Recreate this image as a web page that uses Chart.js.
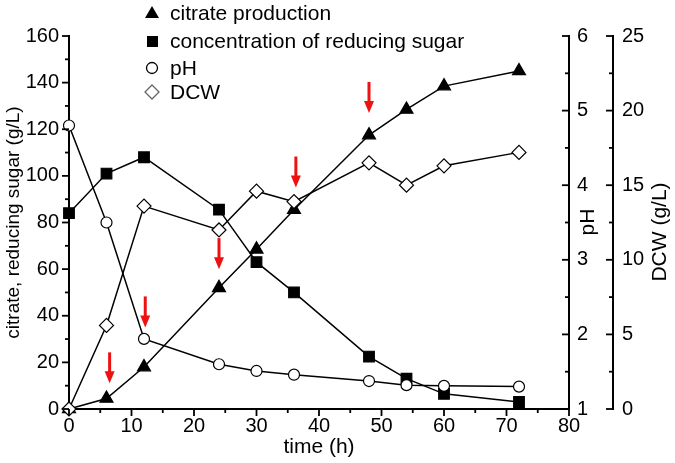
<!DOCTYPE html>
<html lang="en">
<head>
<meta charset="UTF-8">
<title>Citrate fermentation time course</title>
<script src="https://cdn.jsdelivr.net/npm/chart.js@4.4.0/dist/chart.umd.min.js"></script>
<style>
  body { margin: 0; background: #fff; }
</style>
</head>
<body>
<canvas id="myChart" width="675" height="463"></canvas>
<script>
// sampling times (h)
const times = [0, 6, 12, 24, 30, 36, 48, 54, 60, 72];
// left axis, g/L
const citrate = [0, 4.5, 18, 52, 68.5, 85.5, 117.5, 128.5, 138.5, 145];
const sugar = [84, 101, 108, 85.5, 63, 50, 22.5, 13, 6.5, 3];
// right axes
const pH = [4.80, 3.50, 1.94, 1.60, 1.51, 1.46, 1.375, 1.32, 1.31, 1.30];
const dcw = [0, 5.6, 13.6, 12.0, 14.6, 13.9, 16.5, 15.0, 16.3, 17.2];

// tick labels
const xTicks = [0, 10, 20, 30, 40, 50, 60, 70, 80];
const yTicks = [0, 20, 40, 60, 80, 100, 120, 140, 160];
const phTicks = [1, 2, 3, 4, 5, 6];
const dcwTicks = [0, 5, 10, 15, 20, 25];

// red arrows (time, value on left axis at the tip)
const arrowTimes = [6.5, 12.2, 24, 36.3, 48];
const arrowTips = [11, 35, 60, 95, 127];

const legendLabels = ['citrate production', 'concentration of reducing sugar', 'pH', 'DCW'];

const FONT = '"Liberation Sans", Arial, sans-serif';

function pts(ys) {
    return times.map((t, i) => ({x: t, y: ys[i]}));
}

function tickList(arr) {
    return s => { s.ticks = arr.map(v => ({value: v})); };
}

function axisOpts(extra) {
    return Object.assign({
        type: 'linear',
        grid: {display: false, drawTicks: false},
        border: {display: true, color: '#000', width: 2},
        ticks: {font: {size: 20, family: FONT}, color: '#000'}
    }, extra);
}

// ticks, titles, legend and arrows drawn on top
const decorations = {
    id: 'decorations',
    afterDatasetsDraw(chart) {
        const ctx = chart.ctx;
        const {x, y} = chart.scales;
        ctx.save();
        ctx.fillStyle = '#ee1111';
        ctx.strokeStyle = '#ee1111';
        ctx.lineWidth = 3;
        arrowTimes.forEach((t, i) => {
            const ax = x.getPixelForValue(t);
            const ay = y.getPixelForValue(arrowTips[i]);
            ctx.beginPath();
            ctx.moveTo(ax, ay - 31);
            ctx.lineTo(ax, ay - 9);
            ctx.stroke();
            ctx.beginPath();
            ctx.moveTo(ax - 5, ay - 12);
            ctx.lineTo(ax + 5, ay - 12);
            ctx.lineTo(ax, ay);
            ctx.closePath();
            ctx.fill();
        });
        ctx.restore();
    },
    afterDraw(chart) {
        const ctx = chart.ctx;
        const {x, y, yPH, yDCW} = chart.scales;
        ctx.save();
        ctx.strokeStyle = '#000';
        ctx.lineWidth = 1.8;

        // vertical axis ticks
        function vTicks(scale, px, step, dir) {
            for (let v = scale.min, k = 0; v <= scale.max + 1e-9; v += step / 2, k++) {
                const py = scale.getPixelForValue(v);
                const len = k % 2 === 0 ? 7 : 4;
                ctx.beginPath();
                ctx.moveTo(px, py);
                ctx.lineTo(px + dir * len, py);
                ctx.stroke();
            }
        }
        vTicks(y, y.right, 20, -1);
        vTicks(yPH, yPH.left, 1, -1);
        vTicks(yDCW, yDCW.left, 5, -1);
        for (let v = x.min, k = 0; v <= x.max + 1e-9; v += 5, k++) {
            const px = x.getPixelForValue(v);
            const len = k % 2 === 0 ? 7 : 4;
            ctx.beginPath();
            ctx.moveTo(px, x.top);
            ctx.lineTo(px, x.top + len);
            ctx.stroke();
        }

        // axis titles
        ctx.fillStyle = '#000';
        ctx.font = '21px ' + FONT;
        ctx.textAlign = 'center';
        ctx.textBaseline = 'middle';
        ctx.fillText('time (h)', (x.left + x.right) / 2, 447);
        function vTitle(text, cx, cy) {
            ctx.save();
            ctx.translate(cx, cy);
            ctx.rotate(-Math.PI / 2);
            ctx.fillText(text, 0, 0);
            ctx.restore();
        }
        vTitle('pH', 588, 222);
        vTitle('DCW (g/L)', 660, 232);
        ctx.font = '19px ' + FONT;
        vTitle('citrate, reducing sugar (g/L)', 14, (y.top + y.bottom) / 2);

        // legend
        const rows = [13, 41, 68, 92];
        const mx = 152;
        ctx.textAlign = 'left';
        ctx.font = '21px ' + FONT;
        legendLabels.forEach((lab, i) => {
            ctx.fillStyle = '#000';
            ctx.fillText(lab, 170, rows[i] + 1);
        });
        ctx.lineWidth = 1.3;
        // triangle
        ctx.beginPath();
        ctx.moveTo(mx, rows[0] - 7);
        ctx.lineTo(mx + 7, rows[0] + 5);
        ctx.lineTo(mx - 7, rows[0] + 5);
        ctx.closePath();
        ctx.fill();
        // square
        ctx.fillRect(mx - 5, rows[1] - 5, 11, 11);
        // circle
        ctx.beginPath();
        ctx.arc(mx, rows[2], 5.5, 0, Math.PI * 2);
        ctx.stroke();
        // diamond
        ctx.strokeStyle = '#666';
        ctx.beginPath();
        ctx.moveTo(mx, rows[3] - 7);
        ctx.lineTo(mx + 7, rows[3]);
        ctx.lineTo(mx, rows[3] + 7);
        ctx.lineTo(mx - 7, rows[3]);
        ctx.closePath();
        ctx.stroke();
        ctx.restore();
    }
};

const common = {
    borderColor: '#000',
    borderWidth: 1.5,
    pointBorderColor: '#000',
    pointBorderWidth: 1.2,
    tension: 0,
    clip: false
};

const ctx = document.getElementById('myChart').getContext('2d');
const myChart = new Chart(ctx, {
    type: 'line',
    data: {
        datasets: [
            Object.assign({}, common, {
                label: 'pH', data: pts(pH), yAxisID: 'yPH',
                pointStyle: 'circle', pointRadius: 5.5,
                pointBackgroundColor: '#fff', backgroundColor: '#fff'
            }),
            Object.assign({}, common, {
                label: 'DCW', data: pts(dcw), yAxisID: 'yDCW',
                pointStyle: 'rectRot', pointRadius: 7,
                pointBackgroundColor: '#fff', backgroundColor: '#fff'
            }),
            Object.assign({}, common, {
                label: 'citrate production', data: pts(citrate), yAxisID: 'y',
                pointStyle: 'triangle', pointRadius: 7.5,
                pointBackgroundColor: '#000', backgroundColor: '#000'
            }),
            Object.assign({}, common, {
                label: 'concentration of reducing sugar', data: pts(sugar), yAxisID: 'y',
                pointStyle: 'rect', pointRadius: 7.5,
                pointBackgroundColor: '#000', backgroundColor: '#000'
            })
        ]
    },
    options: {
        responsive: false,
        animation: false,
        devicePixelRatio: 1,
        layout: {padding: {top: 36, left: 0, right: 0, bottom: 0}},
        plugins: {legend: {display: false}, tooltip: {enabled: false}},
        scales: {
            x: axisOpts({
                position: 'bottom', min: 0, max: 80,
                afterBuildTicks: tickList(xTicks),
                ticks: {font: {size: 20, family: FONT}, color: '#000', padding: 5, maxRotation: 0},
                afterFit: s => { s.height = 54; }
            }),
            y: axisOpts({
                position: 'left', min: 0, max: 160,
                afterBuildTicks: tickList(yTicks),
                ticks: {font: {size: 20, family: FONT}, color: '#000', padding: 10},
                afterFit: s => { s.width = 69; }
            }),
            yPH: axisOpts({
                position: 'right', min: 1, max: 6,
                afterBuildTicks: tickList(phTicks),
                ticks: {font: {size: 20, family: FONT}, color: '#000', padding: 8},
                afterFit: s => { s.width = 44; }
            }),
            yDCW: axisOpts({
                position: 'right', min: 0, max: 25,
                afterBuildTicks: tickList(dcwTicks),
                ticks: {font: {size: 20, family: FONT}, color: '#000', padding: 9},
                afterFit: s => { s.width = 62; }
            })
        }
    },
    plugins: [decorations]
});
</script>
</body>
</html>
